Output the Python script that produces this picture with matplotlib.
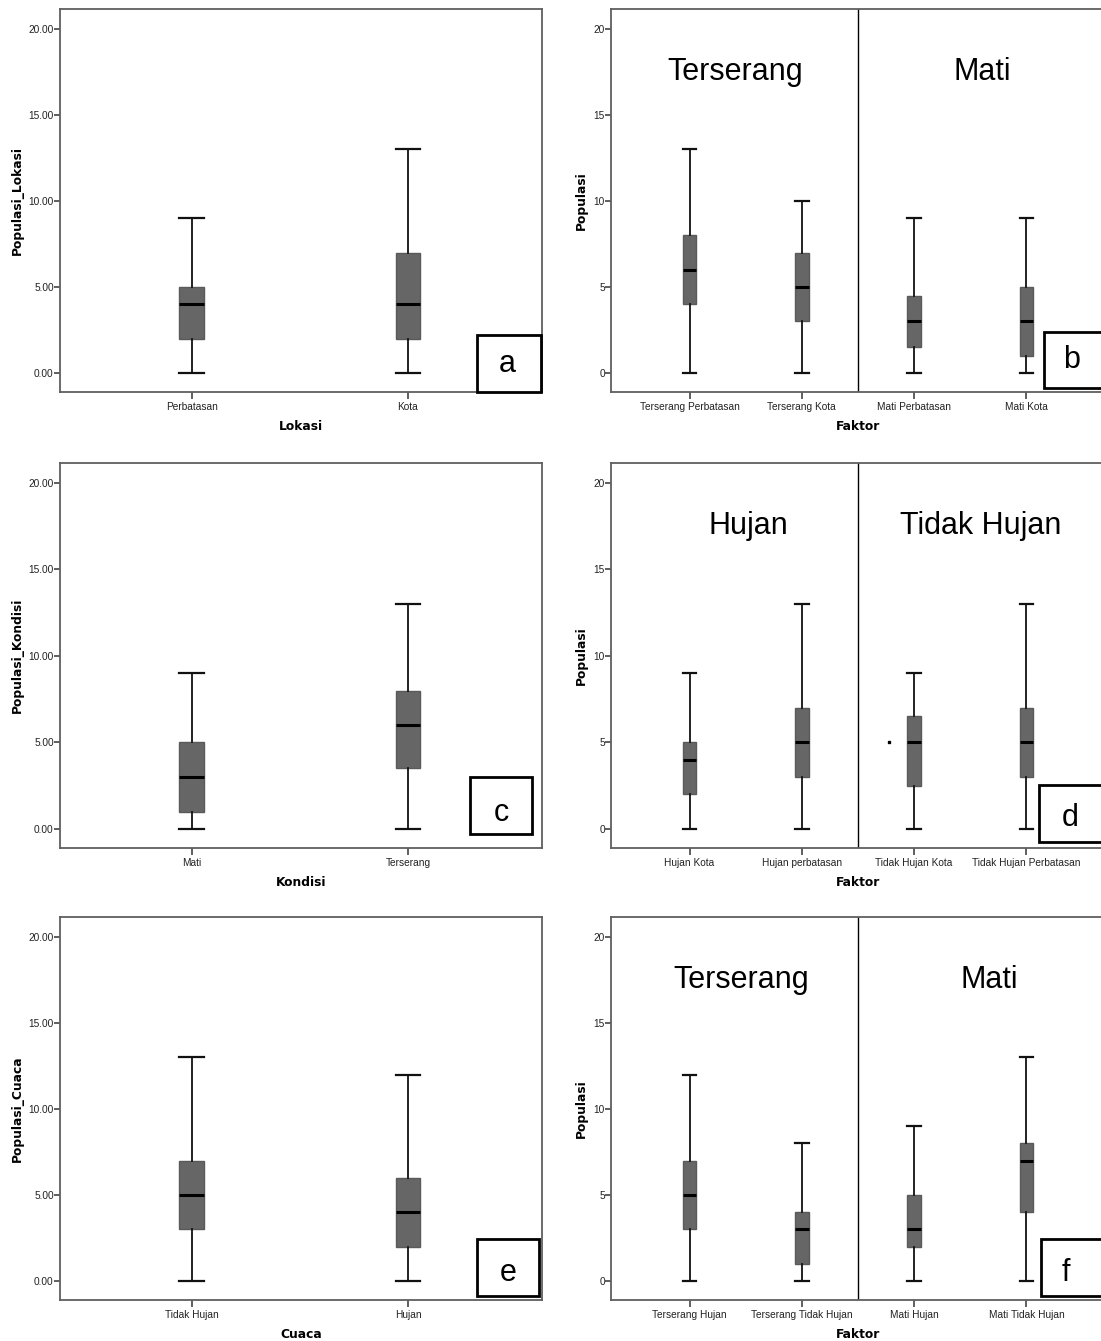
# ============================================================
#  Boxplot populasi — 6 panel (a-f)
# ============================================================

import matplotlib
matplotlib.use('Agg')
import matplotlib.pyplot as plt
from matplotlib.patches import Rectangle

# ── Data (min, Q1, median, Q3, max) ─────────────────────────
lokasi_labels = ['Perbatasan', 'Kota']
lokasi_stats  = [[0, 2, 4, 5, 9], [0, 2, 4, 7, 13]]

faktor_b_labels = ['Terserang Perbatasan', 'Terserang Kota', 'Mati Perbatasan', 'Mati Kota']
faktor_b_stats  = [[0, 4, 6, 8, 13], [0, 3, 5, 7, 10], [0, 1.5, 3, 4.5, 9], [0, 1, 3, 5, 9]]
faktor_b_groups = ['Terserang', 'Mati']

kondisi_labels = ['Mati', 'Terserang']
kondisi_stats  = [[0, 1, 3, 5, 9], [0, 3.5, 6, 8, 13]]

faktor_d_labels = ['Hujan Kota', 'Hujan perbatasan', 'Tidak Hujan Kota', 'Tidak Hujan Perbatasan']
faktor_d_stats  = [[0, 2, 4, 5, 9], [0, 3, 5, 7, 13], [0, 2.5, 5, 6.5, 9], [0, 3, 5, 7, 13]]
faktor_d_groups = ['Hujan', 'Tidak Hujan']
faktor_d_stray  = (1.78, 5)   # titik kecil di sebelah kiri "Tidak Hujan Kota"

cuaca_labels = ['Tidak Hujan', 'Hujan']
cuaca_stats  = [[0, 3, 5, 7, 13], [0, 2, 4, 6, 12]]

faktor_f_labels = ['Terserang Hujan', 'Terserang Tidak Hujan', 'Mati Hujan', 'Mati Tidak Hujan']
faktor_f_stats  = [[0, 3, 5, 7, 12], [0, 1, 3, 4, 8], [0, 2, 3, 5, 9], [0, 4, 7, 8, 13]]
faktor_f_groups = ['Terserang', 'Mati']

y_ticks_left  = [0, 5, 10, 15, 20]

# ── Style ───────────────────────────────────────────────────
BOX_COLOR   = '#666666'
EDGE_COLOR  = '#5a5a5a'
FRAME_COLOR = '#5f5f5f'
SMALL_FONT  = 'Liberation Sans'
BOLD_FONT   = 'DejaVu Sans'

W, H = 1101, 1341
fig = plt.figure(figsize=(W / 100, H / 100), dpi=100)
fig.patch.set_facecolor('white')


def px_axes(left, top, right, bottom):
    return fig.add_axes([left / W, 1 - bottom / H, (right - left) / W, (bottom - top) / H])


def draw_box(ax, stats, labels, width, xlim, ylab, xlab, ydec):
    bxp_stats = []
    for s, lab in zip(stats, labels):
        bxp_stats.append(dict(whislo=s[0], q1=s[1], med=s[2], q3=s[3], whishi=s[4],
                              fliers=[], label=lab))
    ax.bxp(bxp_stats, positions=range(len(stats)), widths=width,
           patch_artist=True, showfliers=False,
           boxprops=dict(facecolor=BOX_COLOR, edgecolor=EDGE_COLOR, linewidth=1.0),
           medianprops=dict(color='black', linewidth=2.2),
           whiskerprops=dict(color='#111111', linewidth=1.3),
           capprops=dict(color='#111111', linewidth=1.6),
           capwidths=width)
    ax.set_xlim(*xlim)
    ax.set_ylim(-1.1, 21.15)
    ax.set_yticks(y_ticks_left)
    if ydec:
        ax.set_yticklabels([f'{v:.2f}' for v in y_ticks_left])
    else:
        ax.set_yticklabels([str(v) for v in y_ticks_left])
    ax.set_xticks(range(len(labels)))
    ax.set_xticklabels(labels)
    for lbl in ax.get_xticklabels() + ax.get_yticklabels():
        lbl.set_fontfamily(SMALL_FONT)
        lbl.set_fontsize(7.3)
        lbl.set_color('#222222')
    ax.tick_params(axis='y', direction='out', length=4, width=1.2, color='#444444', pad=0.5)
    ax.tick_params(axis='x', direction='out', length=5, width=1.2, color='#444444', pad=2)
    for sp in ax.spines.values():
        sp.set_color(FRAME_COLOR)
        sp.set_linewidth(1.3)
    ax.set_ylabel(ylab, fontfamily=BOLD_FONT, fontweight='bold', fontsize=8.8)
    ax.set_xlabel(xlab, fontfamily=BOLD_FONT, fontweight='bold', fontsize=8.8, labelpad=6)


def group_titles(ax, groups, xs):
    ax.axvline(1.5, color='black', linewidth=1.0)
    for g, x in zip(groups, xs):
        ax.text(x, 17.5, g, ha='center', va='center', fontsize=22, fontfamily=SMALL_FONT)


def letter_box(x0, y0, x1, y1, letter, tx, ty):
    fig.add_artist(Rectangle((x0 / W, 1 - y1 / H), (x1 - x0) / W, (y1 - y0) / H,
                             transform=fig.transFigure, facecolor='white',
                             edgecolor='black', linewidth=2.0))
    fig.text(tx / W, 1 - ty / H, letter, ha='center', va='center',
             fontsize=22, fontfamily=SMALL_FONT)


LEFT_XLIM  = (-0.61, 1.62)
RIGHT_XLIM = (-0.70, 3.70)

# ============================================================
# Panel a — Lokasi
# ============================================================
ax_a = px_axes(60, 9, 542, 392)
draw_box(ax_a, lokasi_stats, lokasi_labels, 0.115, LEFT_XLIM, 'Populasi_Lokasi', 'Lokasi', True)
ax_a.yaxis.set_label_coords(-0.075, 0.5)

# ============================================================
# Panel b — Faktor (Terserang / Mati)
# ============================================================
ax_b = px_axes(611, 9, 1105, 392)
draw_box(ax_b, faktor_b_stats, faktor_b_labels, 0.12, RIGHT_XLIM, 'Populasi', 'Faktor', False)
group_titles(ax_b, faktor_b_groups, [0.41, 2.61])
ax_b.yaxis.set_label_coords(-0.046, 0.5)

# ============================================================
# Panel c — Kondisi
# ============================================================
ax_c = px_axes(60, 463, 542, 848)
draw_box(ax_c, kondisi_stats, kondisi_labels, 0.115, LEFT_XLIM, 'Populasi_Kondisi', 'Kondisi', True)
ax_c.yaxis.set_label_coords(-0.075, 0.5)

# ============================================================
# Panel d — Faktor (Hujan / Tidak Hujan)
# ============================================================
ax_d = px_axes(611, 463, 1105, 848)
draw_box(ax_d, faktor_d_stats, faktor_d_labels, 0.12, RIGHT_XLIM, 'Populasi', 'Faktor', False)
group_titles(ax_d, faktor_d_groups, [0.52, 2.59])
ax_d.plot([faktor_d_stray[0]], [faktor_d_stray[1]], marker='s', markersize=2,
          color='black', linestyle='none')
ax_d.yaxis.set_label_coords(-0.046, 0.5)

# ============================================================
# Panel e — Cuaca
# ============================================================
ax_e = px_axes(60, 917, 542, 1300)
draw_box(ax_e, cuaca_stats, cuaca_labels, 0.115, LEFT_XLIM, 'Populasi_Cuaca', 'Cuaca', True)
ax_e.yaxis.set_label_coords(-0.075, 0.5)

# ============================================================
# Panel f — Faktor (Terserang / Mati, cuaca)
# ============================================================
ax_f = px_axes(611, 917, 1105, 1300)
draw_box(ax_f, faktor_f_stats, faktor_f_labels, 0.12, RIGHT_XLIM, 'Populasi', 'Faktor', False)
group_titles(ax_f, faktor_f_groups, [0.46, 2.67])
ax_f.yaxis.set_label_coords(-0.046, 0.5)

# ── Letter boxes ────────────────────────────────────────────
letter_box(477, 335, 541, 392, 'a', 507, 364)
letter_box(1044, 332, 1112, 388, 'b', 1072, 360)
letter_box(470, 777, 532, 834, 'c', 501, 813)
letter_box(1039, 785, 1112, 842, 'd', 1070, 818)
letter_box(477, 1239, 539, 1296, 'e', 508, 1273)
letter_box(1041, 1239, 1112, 1296, 'f', 1066, 1273)

plt.savefig('out.png', dpi=100)
print("saved out.png")
